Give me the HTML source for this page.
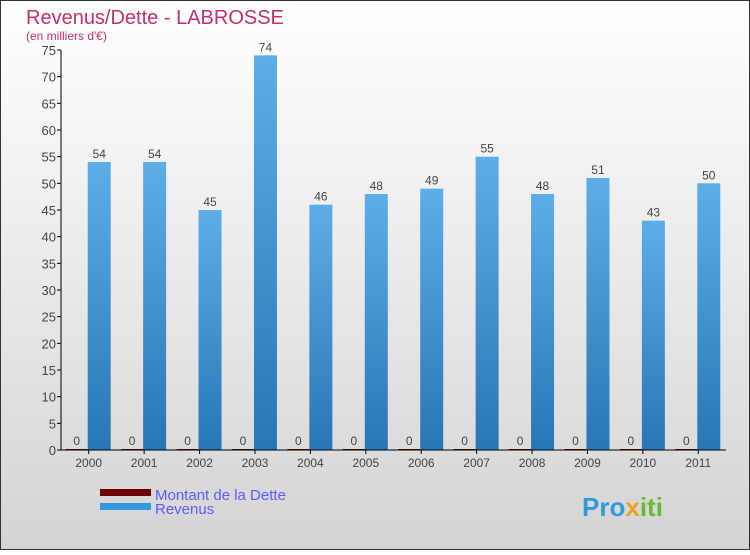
<!DOCTYPE html>
<html><head><meta charset="utf-8"><style>
body{margin:0;}
svg text{font-family:"Liberation Sans",sans-serif;}
</style></head><body>
<svg id="c" width="750" height="550" xmlns="http://www.w3.org/2000/svg">
<defs>
<linearGradient id="bg" x1="0" y1="0" x2="0" y2="1"><stop offset="0" stop-color="#ffffff"/><stop offset="1" stop-color="#d4d4d4"/></linearGradient>
<linearGradient id="bar" x1="0" y1="0" x2="0" y2="1"><stop offset="0" stop-color="#5caee8"/><stop offset="1" stop-color="#2876b4"/></linearGradient>
</defs>
<rect x="0.5" y="0.5" width="749" height="549" fill="url(#bg)" stroke="#333"/>
<text x="26" y="24" font-size="20" fill="#c0306a">Revenus/Dette - LABROSSE</text>
<text x="26" y="40" font-size="12" fill="#c0306a">(en milliers d'€)</text>
<g id="plot"></g>
<g>
<rect x="100" y="489" width="51" height="7" fill="#6a0000"/>
<text x="155" y="500" font-size="15" fill="#5a5aff">Montant de la Dette</text>
<rect x="100" y="503" width="51" height="7" fill="#3399dd"/>
<text x="155" y="514" font-size="15" fill="#5a5aff">Revenus</text>
</g>
<text x="582" y="516" font-size="26" font-weight="bold" fill="#3399dd">Pro<tspan fill="#f0a020">x</tspan><tspan fill="#66bb33">iti</tspan></text>
</svg>
<script>
const categories=["2000","2001","2002","2003","2004","2005","2006","2007","2008","2009","2010","2011"];
const revenus=[54,54,45,74,46,48,49,55,48,51,43,50];
const dette=[0,0,0,0,0,0,0,0,0,0,0,0];
const yTicks=[0,5,10,15,20,25,30,35,40,45,50,55,60,65,70,75];
const NS="http://www.w3.org/2000/svg";
const g=document.getElementById('plot');
const x0=61,x1=726,yB=450,yT=50,yMax=75;
const bw=(x1-x0)/categories.length;
const y=v=>yB-(v/yMax)*(yB-yT);
function mk(t,a,txt){const e=document.createElementNS(NS,t);for(const k in a)e.setAttribute(k,a[k]);if(txt!==undefined)e.textContent=txt;g.appendChild(e);return e;}
yTicks.forEach(t=>{
 const l=mk('line',{x1:x0-4,x2:x0,y1:y(t),y2:y(t),stroke:'#000'});
 
 
 const tx=mk('text',{x:x0-5,y:y(t)+5,'font-size':13,fill:'#444','text-anchor':'end'},t);
 
 
});
categories.forEach((c,i)=>{
 const cx=x0+bw*(i+0.5);
 const d=mk('rect',{x:cx-23,y:y(dette[i])-1,width:22,height:Math.max(1,yB-y(dette[i])),fill:'#6a0000'});
 
 
 const dl=mk('text',{x:cx-12,y:y(dette[i])-5,'font-size':12,fill:'#444','text-anchor':'middle'},dette[i]);
 
 
 const r=mk('rect',{x:cx-1,y:y(revenus[i]),width:23,height:yB-y(revenus[i]),fill:'url(#bar)'});
 
 
 const rl=mk('text',{x:cx+10.5,y:y(revenus[i])-4,'font-size':12,fill:'#444','text-anchor':'middle'},revenus[i]);
 
 
 const tk=mk('line',{x1:cx,x2:cx,y1:yB,y2:yB+4,stroke:'#000'});
 
 
 const xl=mk('text',{x:cx,y:yB+17,'font-size':12,fill:'#444','text-anchor':'middle'},c);
 
 
});
const ya=mk('line',{x1:x0,x2:x0,y1:yT,y2:yB,stroke:'#000'});


const xa=mk('line',{x1:x0-4,x2:x1,y1:yB,y2:yB,stroke:'#000'});


</script>
</body></html>
